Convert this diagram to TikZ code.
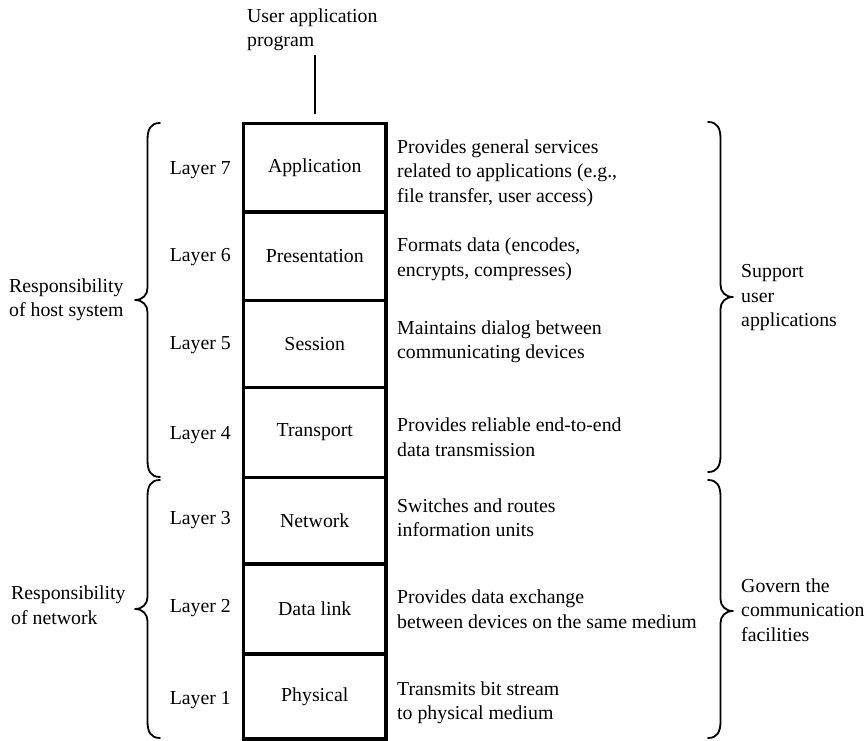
\documentclass[tikz,border=0pt]{standalone}
\usepackage{fontspec}
\setmainfont{Liberation Serif}
\newcommand\DrawBrace[6]{% xe xm xt top tip bot
  \draw[brc] (#1,#4) .. controls ({#2+0.25*(#1-#2)},#4) and (#2,#4+6) .. (#2,#4+17)
    -- (#2,#5-12) .. controls (#2,#5-5) and ({#3+0.6*(#2-#3)},#5) .. (#3,#5)
    .. controls ({#3+0.6*(#2-#3)},#5) and (#2,#5+5) .. (#2,#5+12)
    -- (#2,#6-17) .. controls (#2,#6-6) and ({#2+0.25*(#1-#2)},#6) .. (#1,#6);}
\begin{document}
\begin{tikzpicture}[x=1pt,y=-1pt,
  txt/.style={font=\fontsize{19.8}{24.5}\selectfont, inner sep=0pt, align=left, text=black},
  layerbox/.style={draw, line width=3.2pt, minimum width=142.5pt, inner sep=0pt,
    font=\fontsize{19.8}{24.5}\selectfont},
  brc/.style={line width=1.8pt, line cap=round, line join=round},
  conn/.style={line width=2.2pt}]
\useasboundingbox (0,0) rectangle (867,741);

% stack of layers
\node[layerbox, minimum height=88.5pt] (app)  at (314.75,167.75) {Application};
\node[layerbox, minimum height=88.5pt] (pres) at (314.75,256.25) {Presentation};
\node[layerbox, minimum height=87pt]   (sess) at (314.75,344)    {Session};
\node[layerbox, minimum height=90pt]   (trans) at (314.75,432.5) {Transport};
\node[layerbox, minimum height=86.5pt] (net)  at (314.75,520.75) {Network};
\node[layerbox, minimum height=90pt]   (dl)   at (314.75,609)    {Data link};
\node[layerbox, minimum height=85pt]   (phys) at (314.75,696.5)  {Physical};

% user program
\node[txt, anchor=west] (usr) at (247,30) {User application\\program};
\coordinate (utop) at (314.75,55);
\draw[conn] (utop) -- ([yshift=8pt]app.north);

% layer numbers
\node[txt, anchor=east] (l7) at (231,170) {Layer 7};
\node[txt, anchor=east] (l6) at (231,257) {Layer 6};
\node[txt, anchor=east] (l5) at (231,345) {Layer 5};
\node[txt, anchor=east] (l4) at (231,435) {Layer 4};
\node[txt, anchor=east] (l3) at (231,520) {Layer 3};
\node[txt, anchor=east] (l2) at (231,608) {Layer 2};
\node[txt, anchor=east] (l1) at (231,700) {Layer 1};

% descriptions
\node[txt, anchor=west] (d7) at (397,173)   {Provides general services\\related to applications (e.g.,\\file transfer, user access)};
\node[txt, anchor=west] (d6) at (397,259.5) {Formats data (encodes,\\encrypts, compresses)};
\node[txt, anchor=west] (d5) at (397,342)   {Maintains dialog between\\communicating devices};
\node[txt, anchor=west] (d4) at (397,437)   {Provides reliable end-to-end\\data transmission};
\node[txt, anchor=west] (d3) at (397,517.5) {Switches and routes\\information units};
\node[txt, anchor=west] (d2) at (397,609)   {Provides data exchange\\between devices on the same medium};
\node[txt, anchor=west] (d1) at (397,703)   {Transmits bit stream\\to physical medium};

% braces
\DrawBrace{160}{147.5}{135}{123}{300}{477}
\DrawBrace{160}{147.5}{135}{480}{609}{738}
\DrawBrace{708}{720.5}{733}{122}{297}{472}
\DrawBrace{708}{720.5}{733}{480}{611}{738}

% group labels
\node[txt, anchor=west] (hostr) at (9,300)  {Responsibility\\of host system};
\node[txt, anchor=west] (netr)  at (11,605) {Responsibility\\of network};
\node[txt, anchor=west] (supp)  at (741,298) {Support\\user\\applications};
\node[txt, anchor=west] (gov)   at (741,610) {Govern the\\communication\\facilities};
\end{tikzpicture}
\end{document}
